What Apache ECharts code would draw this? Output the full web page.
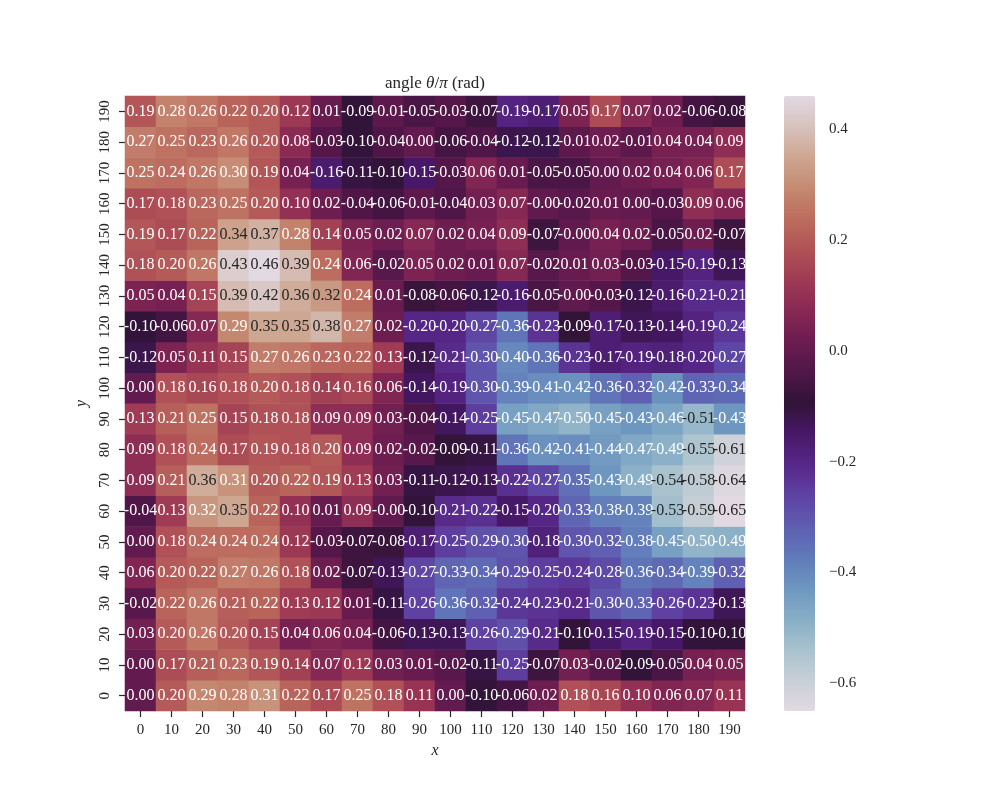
<!DOCTYPE html>
<html><head><meta charset="utf-8">
<script src="https://cdn.jsdelivr.net/npm/echarts@6/dist/echarts.min.js"></script>
<style>html,body{margin:0;padding:0;background:#fff}#c{width:1000px;height:800px}</style>
</head><body><div id="c"></div>
<script>
const xCategories = ['0','10','20','30','40','50','60','70','80','90','100','110','120','130','140','150','160','170','180','190'];
const yCategories = ['0','10','20','30','40','50','60','70','80','90','100','110','120','130','140','150','160','170','180','190'];

// values per row (x = 0 .. 190)
const y190 = [0.19,0.28,0.26,0.22,0.20,0.12,0.01,-0.09,-0.01,-0.05,-0.03,-0.07,-0.19,-0.17,0.05,0.17,0.07,0.02,-0.06,-0.08];
const y180 = [0.27,0.25,0.23,0.26,0.20,0.08,-0.03,-0.10,-0.04,0.00,-0.06,-0.04,-0.12,-0.12,-0.01,0.02,-0.01,0.04,0.04,0.09];
const y170 = [0.25,0.24,0.26,0.30,0.19,0.04,-0.16,-0.11,-0.10,-0.15,-0.03,0.06,0.01,-0.05,-0.05,0.00,0.02,0.04,0.06,0.17];
const y160 = [0.17,0.18,0.23,0.25,0.20,0.10,0.02,-0.04,-0.06,-0.01,-0.04,0.03,0.07,-0.004,-0.02,0.01,0.00,-0.03,0.09,0.06];
const y150 = [0.19,0.17,0.22,0.34,0.37,0.28,0.14,0.05,0.02,0.07,0.02,0.04,0.09,-0.07,-0.004,0.04,0.02,-0.05,0.02,-0.07];
const y140 = [0.18,0.20,0.26,0.43,0.46,0.39,0.24,0.06,-0.02,0.05,0.02,0.01,0.07,-0.02,0.01,0.03,-0.03,-0.15,-0.19,-0.13];
const y130 = [0.05,0.04,0.15,0.39,0.42,0.36,0.324,0.24,0.01,-0.08,-0.06,-0.12,-0.16,-0.05,-0.004,-0.03,-0.12,-0.16,-0.21,-0.21];
const y120 = [-0.10,-0.06,0.07,0.29,0.35,0.35,0.38,0.27,0.02,-0.20,-0.20,-0.27,-0.36,-0.23,-0.09,-0.17,-0.13,-0.14,-0.19,-0.24];
const y110 = [-0.12,0.05,0.11,0.15,0.27,0.26,0.23,0.22,0.13,-0.12,-0.21,-0.30,-0.40,-0.36,-0.23,-0.17,-0.19,-0.18,-0.20,-0.27];
const y100 = [0.00,0.18,0.16,0.18,0.20,0.18,0.14,0.16,0.06,-0.14,-0.19,-0.30,-0.39,-0.41,-0.42,-0.36,-0.32,-0.42,-0.33,-0.34];
const y90  = [0.13,0.21,0.25,0.15,0.18,0.18,0.09,0.09,0.03,-0.04,-0.14,-0.25,-0.45,-0.47,-0.50,-0.45,-0.43,-0.46,-0.51,-0.43];
const y80  = [0.09,0.18,0.24,0.17,0.19,0.18,0.20,0.09,0.02,-0.02,-0.09,-0.11,-0.36,-0.42,-0.41,-0.44,-0.47,-0.49,-0.55,-0.61];
const y70  = [0.09,0.21,0.36,0.31,0.20,0.22,0.19,0.13,0.03,-0.11,-0.12,-0.13,-0.22,-0.27,-0.35,-0.43,-0.49,-0.54,-0.58,-0.64];
const y60  = [-0.04,0.13,0.316,0.35,0.22,0.10,0.01,0.09,-0.004,-0.10,-0.21,-0.22,-0.15,-0.20,-0.33,-0.38,-0.39,-0.53,-0.59,-0.65];
const y50  = [0.00,0.18,0.24,0.24,0.24,0.12,-0.03,-0.07,-0.08,-0.17,-0.25,-0.29,-0.30,-0.18,-0.30,-0.32,-0.38,-0.45,-0.50,-0.49];
const y40  = [0.06,0.20,0.22,0.27,0.26,0.18,0.02,-0.07,-0.13,-0.27,-0.33,-0.34,-0.29,-0.25,-0.24,-0.28,-0.36,-0.34,-0.39,-0.32];
const y30  = [-0.02,0.22,0.26,0.21,0.22,0.13,0.12,0.01,-0.11,-0.26,-0.36,-0.32,-0.24,-0.23,-0.21,-0.30,-0.33,-0.26,-0.23,-0.13];
const y20  = [0.03,0.20,0.26,0.20,0.15,0.04,0.06,0.04,-0.06,-0.13,-0.13,-0.26,-0.29,-0.21,-0.10,-0.15,-0.19,-0.15,-0.10,-0.10];
const y10  = [0.00,0.17,0.21,0.23,0.19,0.14,0.07,0.12,0.03,0.01,-0.02,-0.11,-0.25,-0.07,0.03,-0.02,-0.09,-0.05,0.04,0.05];
const y0   = [0.00,0.20,0.29,0.28,0.31,0.22,0.17,0.25,0.18,0.11,0.00,-0.10,-0.06,0.02,0.18,0.16,0.10,0.06,0.07,0.11];

const rows = [y0,y10,y20,y30,y40,y50,y60,y70,y80,y90,y100,y110,y120,y130,y140,y150,y160,y170,y180,y190];

const colorbarTicks = [-0.6,-0.4,-0.2,0.0,0.2,0.4];
const vMin = -0.65, vMax = 0.46;

// twilight-like colour ramp (low -> high)
const ramp = ['#e2d9e2','#c8cfd6','#a8c2ce','#87aec6','#6d96c0','#607aba','#5f5eb0','#5e42a2',
              '#572888','#481868','#301437','#501648','#6b1c50','#872854','#9e3a54','#b05256',
              '#bc6c5e','#c58971','#cea691','#d7c2bd','#e2d9e2'];

const FONT = 'Liberation Serif';
const INK = '#262626';

const data = [];
rows.forEach((row, yi) => row.forEach((v, xi) => {
  const dark = (v >= 0.32 || v <= -0.505);
  data.push({ value: [xi, yi, v], label: { color: dark ? INK : '#ffffff' } });
}));

const chart = echarts.init(document.getElementById('c'));
chart.setOption({
  animation: false,
  backgroundColor: '#ffffff',
  textStyle: { fontFamily: FONT },
  title: {
    text: 'angle {it|θ}/{it|π} (rad)',
    left: 435, top: 75, padding: 0, textAlign: 'center',
    textStyle: { fontFamily: FONT, fontSize: 17, fontWeight: 'normal', color: INK,
      rich: { it: { fontFamily: FONT, fontSize: 17, fontStyle: 'italic', color: INK } } }
  },
  grid: [
    { left: 125, top: 96, width: 620, height: 615 },
    { left: 784, top: 96, width: 31, height: 615 }
  ],
  xAxis: [
    { type: 'category', gridIndex: 0, data: xCategories,
      name: 'x', nameLocation: 'middle', nameGap: 32,
      nameTextStyle: { fontFamily: FONT, fontSize: 16, fontStyle: 'italic', color: INK },
      axisLine: { show: false },
      axisTick: { show: true, alignWithLabel: true, length: 6, lineStyle: { color: INK, width: 1.2 } },
      axisLabel: { fontFamily: FONT, fontSize: 15, color: INK, margin: 12, interval: 0 },
      splitLine: { show: false } },
    { type: 'value', gridIndex: 1, min: 0, max: 1, show: false }
  ],
  yAxis: [
    { type: 'category', gridIndex: 0, data: yCategories,
      name: 'y', nameLocation: 'middle', nameGap: 28, nameRotate: 90,
      nameTextStyle: { fontFamily: FONT, fontSize: 16, fontStyle: 'italic', color: INK },
      axisLine: { show: false },
      axisTick: { show: true, alignWithLabel: true, length: 6, lineStyle: { color: INK, width: 1.2 } },
      axisLabel: { fontFamily: FONT, fontSize: 15, color: INK, margin: 12, rotate: 90, interval: 0 },
      splitLine: { show: false } },
    { type: 'value', gridIndex: 1, min: vMin, max: vMax, position: 'right',
      axisLine: { show: false },
      splitLine: { show: false },
      axisTick: { show: true, length: 6, customValues: colorbarTicks, lineStyle: { color: INK, width: 1.2 } },
      axisLabel: { show: true, fontFamily: FONT, fontSize: 15, color: INK, margin: 14, customValues: colorbarTicks,
        formatter: v => (v < -1e-9 ? '\u2212' : '') + Math.abs(v).toFixed(1) } }
  ],
  visualMap: {
    type: 'continuous', min: vMin, max: vMax, dimension: 2, seriesIndex: 0,
    calculable: false, realtime: false, hoverLink: false,
    orient: 'vertical', left: 784, top: 96, padding: 0,
    itemWidth: 31, itemHeight: 615, text: null,
    inRange: { color: ramp }
  },
  series: [{
    type: 'heatmap', xAxisIndex: 0, yAxisIndex: 0, data: data,
    itemStyle: { borderWidth: 0 },
    label: { show: true, fontFamily: FONT, fontSize: 16,
      formatter: p => p.value[2].toFixed(2) },
    emphasis: { disabled: true }
  }]
});
</script>
</body></html>
